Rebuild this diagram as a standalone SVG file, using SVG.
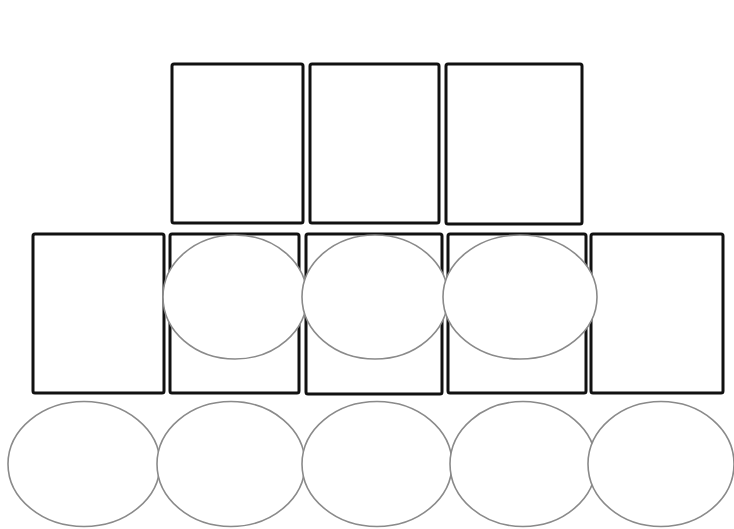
<svg xmlns="http://www.w3.org/2000/svg" width="734" height="529" viewBox="0 0 734 529">
<style>
.box{fill:#fff;stroke:#111;stroke-width:3;}
.oval{fill:#fff;stroke:#8a8a8a;stroke-width:1.6;}
</style>
<rect x="0" y="0" width="734" height="529" fill="#fff"/>
<g id="top-row">
<rect id="t1" class="box" x="172" y="64" width="131" height="159" rx="2"/>
<rect id="t2" class="box" x="310" y="64" width="129" height="159" rx="2"/>
<rect id="t3" class="box" x="446" y="64" width="136" height="160" rx="2"/>
</g>
<g id="middle-row">
<rect id="m1" class="box" x="33" y="234" width="131" height="159" rx="2"/>
<rect id="m2" class="box" x="170" y="234" width="129" height="159" rx="2"/>
<rect id="m3" class="box" x="306" y="234" width="136" height="160" rx="2"/>
<rect id="m4" class="box" x="448" y="234" width="138" height="159" rx="2"/>
<rect id="m5" class="box" x="591" y="234" width="132" height="159" rx="2"/>
</g>
<g id="middle-ovals">
<ellipse id="o1" class="oval" cx="235" cy="297" rx="72" ry="62"/>
<ellipse id="o2" class="oval" cx="375" cy="297" rx="73" ry="62"/>
<ellipse id="o3" class="oval" cx="520" cy="297" rx="77" ry="62"/>
</g>
<g id="bottom-ovals">
<ellipse id="b1" class="oval" cx="84" cy="464" rx="76" ry="62.5"/>
<ellipse id="b2" class="oval" cx="231" cy="464" rx="74" ry="62.5"/>
<ellipse id="b3" class="oval" cx="377" cy="464" rx="75" ry="62.5"/>
<ellipse id="b4" class="oval" cx="523" cy="464" rx="73" ry="62.5"/>
<ellipse id="b5" class="oval" cx="661" cy="464" rx="73" ry="62.5"/>
</g>
<g id="connectors"></g>
</svg>
